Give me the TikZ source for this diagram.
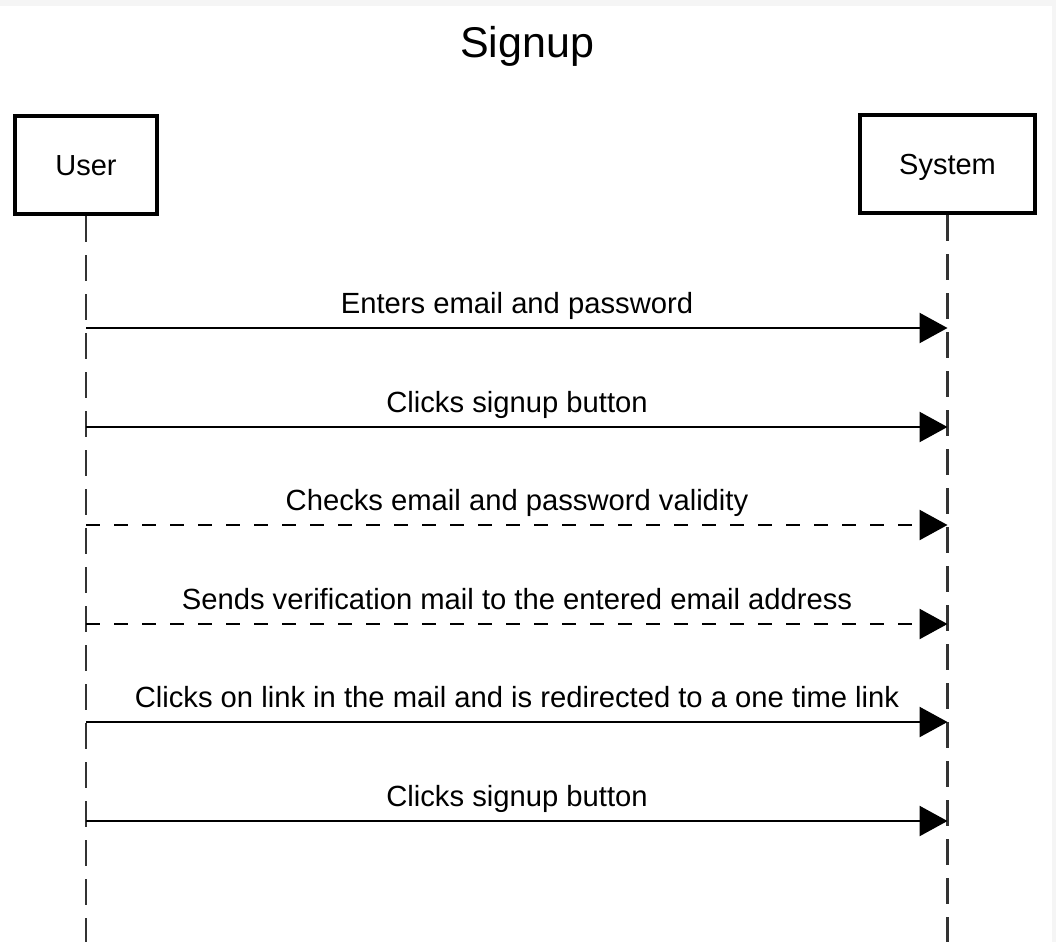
\documentclass[tikz,border=0pt]{standalone}
\usepackage{fontspec}
\setmainfont{Liberation Sans}
\usetikzlibrary{arrows.meta}
\begin{document}
\begin{tikzpicture}[x=1pt,y=-1pt,
  actor/.style={draw=black,line width=4pt,fill=white,minimum width=142pt,minimum height=98pt,inner sep=0pt,text height=21pt,text depth=-4pt,font=\fontsize{29}{34}\selectfont},
  lifeline/.style={line width=2.6pt,draw=black!80,dash pattern=on 26pt off 13pt},
  msg/.style={line width=2.4pt,-{Triangle[length=28pt,width=30pt]}},
  dmsg/.style={msg,dash pattern=on 14pt off 14pt},
  lbl/.style={anchor=base,font=\fontsize{29.2}{34}\selectfont,inner sep=0pt}]
\useasboundingbox (0,0) rectangle (1056,942);
\fill[black!4] (0,0) rectangle (1056,942);
\fill[white] (0,6) rectangle (1052,942);
\node[anchor=base,font=\fontsize{43}{50}\selectfont,inner sep=0pt] (title) at (527,58) {Signup};
\node[actor] (user) at (86,165) {User};
\node[actor,minimum width=175pt] (sys) at (947.5,164) {System};
\coordinate (ue) at (86,942);
\coordinate (se) at (947.5,942);
\draw[lifeline] (user.south) -- (ue);
\draw[lifeline] (sys.south) -- (se);
\foreach \i/\y/\s/\t in {1/328/msg/Enters email and password,
  2/427/msg/Clicks signup button,
  3/525/dmsg/Checks email and password validity,
  4/624/dmsg/Sends verification mail to the entered email address,
  5/722/msg/Clicks on link in the mail and is redirected to a one time link,
  6/821/msg/Clicks signup button}{
  \coordinate (u\i) at (86,\y);
  \coordinate (s\i) at (947.5,\y);
  \draw[\s] (u\i) -- (s\i);
  \node[lbl] (l\i) at (517,\y-15) {\t};
}
\end{tikzpicture}
\end{document}
